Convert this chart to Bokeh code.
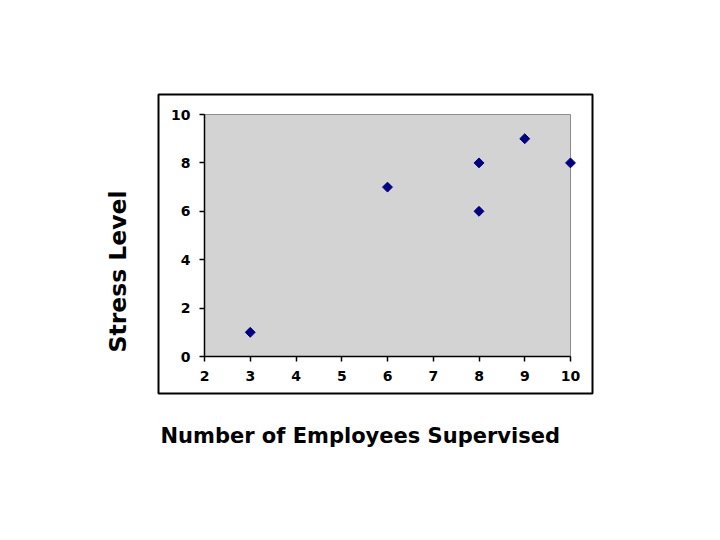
import math
from bokeh.plotting import figure
from bokeh.models import FixedTicker, Range1d, Title
from bokeh.embed import file_html
from bokeh.resources import INLINE

employees = [3, 6, 8, 8, 9, 10]
stress = [1, 7, 8, 6, 9, 8]
x_ticks = [2, 3, 4, 5, 6, 7, 8, 9, 10]
y_ticks = [0, 2, 4, 6, 8, 10]
x_min, x_max = 2, 10
y_min, y_max = 0, 10

# frame = outer chart box; plot area (grey) sits inside it
W, H = 704, 524
FL, FT, FW, FH = 158, 94, 434, 299
px_x = (570 - 204) / (x_max - x_min)
px_y = (356 - 114) / (y_max - y_min)
xr = Range1d(x_min - (204 - FL) / px_x, x_max + (FL + FW - 570) / px_x)
yr = Range1d(y_min - (FT + FH - 356) / px_y, y_max + (114 - FT) / px_y)

p = figure(width=W, height=H, output_backend="svg", toolbar_location=None,
           x_range=xr, y_range=yr,
           min_border_left=FL, min_border_right=W - FL - FW,
           min_border_top=FT, min_border_bottom=H - FT - FH)
p.frame_width = FW
p.frame_height = FH
p.background_fill_color = "white"
p.border_fill_color = "white"
p.outline_line_color = "black"
p.outline_line_width = 2
p.grid.visible = False

# grey plot area
p.quad(left=[x_min], right=[x_max], bottom=[y_min], top=[y_max],
       fill_color="#d3d3d3", line_color="#8c8c8c", line_width=1)

for ax in (p.xaxis, p.yaxis):
    ax.axis_line_color = "black"
    ax.axis_line_width = 1.5
    ax.major_tick_line_color = "black"
    ax.major_tick_line_width = 1.5
    ax.major_tick_out = 5
    ax.major_tick_in = 0
    ax.minor_tick_line_color = None
    ax.major_label_text_font = "DejaVu Sans"
    ax.major_label_text_font_style = "bold"
    ax.major_label_text_font_size = "14px"
    ax.major_label_text_color = "black"

p.xaxis.ticker = FixedTicker(ticks=x_ticks)
p.yaxis.ticker = FixedTicker(ticks=y_ticks)
p.xaxis.bounds = (x_min, x_max)
p.yaxis.bounds = (y_min, y_max)
p.xaxis.fixed_location = y_min
p.yaxis.fixed_location = x_min
p.xaxis.major_label_standoff = 9
p.yaxis.major_label_standoff = 9

xt = Title(text="Number of Employees Supervised", align="left", offset=2,
           text_font="DejaVu Sans", text_font_style="bold",
           text_font_size="21px", text_color="black", standoff=56)
yt = Title(text="Stress Level", align="left", offset=41,
           text_font="DejaVu Sans", text_font_style="bold",
           text_font_size="23.5px", text_color="black", standoff=54)
p.add_layout(xt, "below")
p.add_layout(yt, "left")

p.scatter(employees, stress, marker="square", size=7, angle=math.pi / 4,
          fill_color="#000080", line_color="#000080", line_width=1)

open("out.html", "w").write(file_html(p, INLINE))
